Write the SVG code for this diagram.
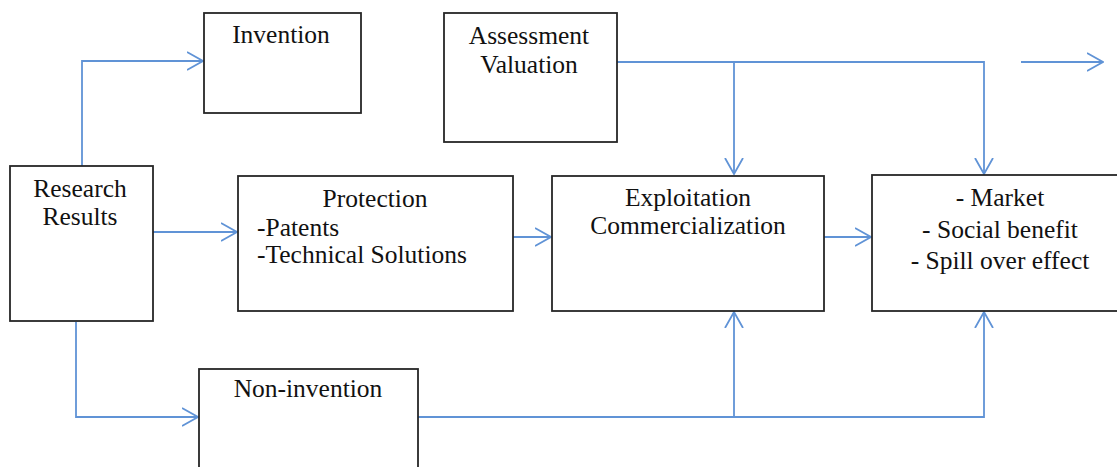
<svg xmlns="http://www.w3.org/2000/svg" width="1117" height="467" viewBox="0 0 1117 467">
<style>
.box{fill:#ffffff;stroke:#262626;stroke-width:1.8}
.lbl{font-family:"Liberation Serif","Times New Roman",serif;font-size:25.5px;fill:#111111}
.c{text-anchor:middle}
.con{fill:none;stroke:#6093d6;stroke-width:1.8}
</style>
<defs>
<marker id="arr" markerUnits="userSpaceOnUse" viewBox="0 0 17 20" refX="16" refY="10" markerWidth="17" markerHeight="20" orient="auto">
<path d="M0,1 L16,10 L0,19" fill="none" stroke="#6093d6" stroke-width="1.8"/>
</marker>
</defs>
<rect width="1117" height="467" fill="#ffffff"/>
<g id="connectors">
<path class="con" d="M82,166 V61 H203" marker-end="url(#arr)"/>
<path class="con" d="M153,232 H237" marker-end="url(#arr)"/>
<path class="con" d="M76,322 V417 H198" marker-end="url(#arr)"/>
<path class="con" d="M513,237 H551" marker-end="url(#arr)"/>
<path class="con" d="M824,237 H871" marker-end="url(#arr)"/>
<path class="con" d="M617,62 H734 V174" marker-end="url(#arr)"/>
<path class="con" d="M734,62 H984 V174" marker-end="url(#arr)"/>
<path class="con" d="M418,417 H734 V312" marker-end="url(#arr)"/>
<path class="con" d="M734,417 H984 V312" marker-end="url(#arr)"/>
<path class="con" d="M1021,62 H1103" marker-end="url(#arr)"/>
</g>
<g id="invention">
<rect class="box" x="204" y="13" width="157" height="100"/>
<text class="lbl c" x="281" y="43">Invention</text>
</g>
<g id="assessment">
<rect class="box" x="444" y="13" width="173" height="129"/>
<text class="lbl c" x="529" y="44">Assessment</text>
<text class="lbl c" x="529" y="73">Valuation</text>
</g>
<g id="research">
<rect class="box" x="10" y="166" width="143" height="155"/>
<text class="lbl c" x="80" y="197">Research</text>
<text class="lbl c" x="80" y="225">Results</text>
</g>
<g id="protection">
<rect class="box" x="238" y="176" width="275" height="135"/>
<text class="lbl c" x="375" y="207">Protection</text>
<text class="lbl" x="257" y="236">-Patents</text>
<text class="lbl" x="257" y="263">-Technical Solutions</text>
</g>
<g id="exploitation">
<rect class="box" x="552" y="176" width="272" height="135"/>
<text class="lbl c" x="688" y="206">Exploitation</text>
<text class="lbl c" x="688" y="234">Commercialization</text>
</g>
<g id="market">
<rect class="box" x="872" y="175" width="260" height="136"/>
<text class="lbl c" x="1000" y="206">- Market</text>
<text class="lbl c" x="1000" y="238">- Social benefit</text>
<text class="lbl c" x="1000" y="269">- Spill over effect</text>
</g>
<g id="noninvention">
<rect class="box" x="199" y="369" width="219" height="110"/>
<text class="lbl c" x="308" y="397">Non-invention</text>
</g>
</svg>
